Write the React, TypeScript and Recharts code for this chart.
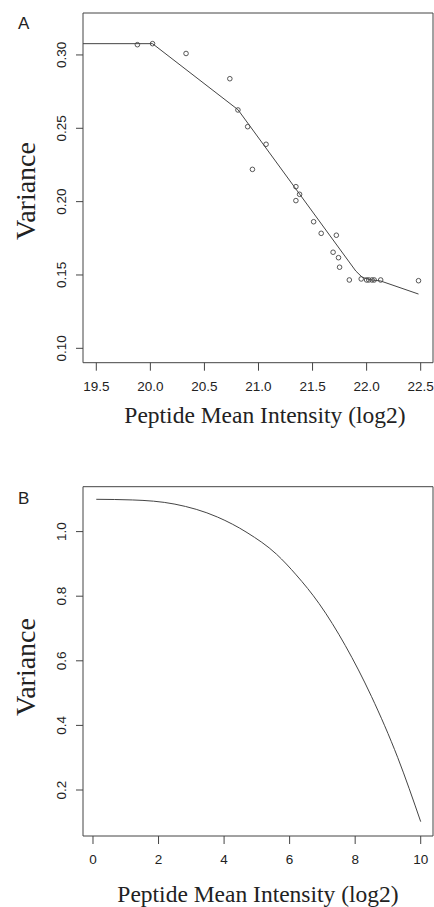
import React from "react";
import { ComposedChart, Line, Scatter, XAxis, YAxis, ReferenceArea } from "recharts";

// Panel A data
const aPointX = [19.88, 20.02, 20.33, 20.735, 20.81, 20.9, 21.07, 20.944, 21.346, 21.38, 21.346, 21.51, 21.58, 21.72, 21.69, 21.74, 21.75, 21.84, 21.95, 22.0, 22.02, 22.05, 22.07, 22.13, 22.48];
const aPointY = [0.307, 0.3077, 0.301, 0.2838, 0.2625, 0.2511, 0.2391, 0.222, 0.2102, 0.205, 0.2007, 0.1863, 0.1784, 0.1771, 0.1655, 0.1618, 0.1553, 0.1466, 0.1473, 0.1466, 0.1466, 0.1466, 0.1466, 0.1466, 0.1461];
const aLineX = [19.377, 20.02, 20.81, 21.9, 21.96, 22.03, 22.13, 22.48];
const aLineY = [0.3077, 0.3077, 0.2627, 0.1527, 0.1484, 0.1468, 0.1459, 0.137];
const aXTicks = [19.5, 20.0, 20.5, 21.0, 21.5, 22.0, 22.5];
const aYTicks = [0.1, 0.15, 0.2, 0.25, 0.3];

// Panel B data
const bLineX = [0.1, 1.2, 2.5, 3.8, 4.7, 5.6, 6.2, 6.9, 7.7, 8.5, 9.3, 10.0];
const bLineY = [1.1, 1.098, 1.085, 1.045, 0.997, 0.93, 0.866, 0.777, 0.647, 0.489, 0.3, 0.102];
const bXTicks = [0, 2, 4, 6, 8, 10];
const bYTicks = [0.2, 0.4, 0.6, 0.8, 1.0];

const aPoints = aPointX.map((x, i) => ({ x, y: aPointY[i] }));
const aLine = aLineX.map((x, i) => ({ x, y: aLineY[i] }));
const bLine = bLineX.map((x, i) => ({ x, y: bLineY[i] }));

const STROKE = "#444";
const TEXT = "#222";
const SANS = "'Liberation Sans', Arial, sans-serif";
const SERIF = "'Liberation Serif', 'Times New Roman', serif";

const XTick = (decimals: number) => (props: any) => {
  const { x, y, payload } = props;
  return (
    <text x={x} y={y + 18} textAnchor="middle" fontFamily={SANS} fontSize={13.5} fill={TEXT}>
      {Number(payload.value).toFixed(decimals)}
    </text>
  );
};

const YTick = (decimals: number) => (props: any) => {
  const { x, y, payload } = props;
  const cx = x - 8;
  return (
    <text x={cx} y={y} transform={`rotate(-90 ${cx} ${y})`} textAnchor="middle" fontFamily={SANS} fontSize={13.5} fill={TEXT}>
      {Number(payload.value).toFixed(decimals)}
    </text>
  );
};

const OpenCircle = (props: any) => (
  <circle cx={props.cx} cy={props.cy} r={2.3} fill="none" stroke={STROKE} strokeWidth={0.9} />
);

export default function App() {
  const aX: [number, number] = [19.377, 22.614];
  const aY: [number, number] = [0.0902, 0.3286];
  const bX: [number, number] = [-0.305, 10.375];
  const bY: [number, number] = [0.0576, 1.139];
  return (
    <div style={{ position: "absolute", left: 0, top: 0, width: 434, height: 907, background: "#fff", overflow: "hidden" }}>
      <div style={{ position: "absolute", left: 18, top: 14, fontFamily: SANS, fontSize: 17, color: TEXT }}>A</div>
      <div style={{ position: "absolute", left: 18, top: 489, fontFamily: SANS, fontSize: 17, color: TEXT }}>B</div>
      <div style={{ position: "absolute", left: 0, top: 0 }}>
        <ComposedChart width={434} height={450} margin={{ top: 13, right: 1, bottom: 0, left: 0 }}>
          <XAxis dataKey="x" type="number" domain={aX} ticks={aXTicks} allowDataOverflow axisLine={false}
            tickLine={{ stroke: STROKE }} tickSize={8} tick={XTick(1)} height={87.3} interval={0} />
          <YAxis dataKey="y" type="number" domain={aY} ticks={aYTicks} allowDataOverflow axisLine={false}
            tickLine={{ stroke: STROKE }} tickSize={7} tick={YTick(2)} width={83} interval={0} />
          <ReferenceArea x1={aX[0]} x2={aX[1]} y1={aY[0]} y2={aY[1]} fill="none" stroke={STROKE} strokeWidth={1} />
          <Line data={aLine} dataKey="y" type="linear" stroke={STROKE} strokeWidth={1} dot={false} isAnimationActive={false} />
          <Scatter data={aPoints} dataKey="y" shape={OpenCircle} isAnimationActive={false} />
          <text x={265} y={423} textAnchor="middle" fontFamily={SERIF} fontSize={23.5} fill={TEXT}>Peptide Mean Intensity (log2)</text>
          <text x={35} y={191} transform="rotate(-90 35 191)" textAnchor="middle" fontFamily={SERIF} fontSize={28} fill={TEXT}>Variance</text>
        </ComposedChart>
      </div>
      <div style={{ position: "absolute", left: 0, top: 450 }}>
        <ComposedChart width={434} height={457} margin={{ top: 36.7, right: 1, bottom: 0, left: 0 }}>
          <XAxis dataKey="x" type="number" domain={bX} ticks={bXTicks} allowDataOverflow axisLine={false}
            tickLine={{ stroke: STROKE }} tickSize={8} tick={XTick(0)} height={71} interval={0} />
          <YAxis dataKey="y" type="number" domain={bY} ticks={bYTicks} allowDataOverflow axisLine={false}
            tickLine={{ stroke: STROKE }} tickSize={7} tick={YTick(1)} width={83} interval={0} />
          <ReferenceArea x1={bX[0]} x2={bX[1]} y1={bY[0]} y2={bY[1]} fill="none" stroke={STROKE} strokeWidth={1} />
          <Line data={bLine} dataKey="y" type="monotone" stroke={STROKE} strokeWidth={1} dot={false} isAnimationActive={false} />
          <text x={258} y={452} textAnchor="middle" fontFamily={SERIF} fontSize={23.5} fill={TEXT}>Peptide Mean Intensity (log2)</text>
          <text x={35} y={217} transform="rotate(-90 35 217)" textAnchor="middle" fontFamily={SERIF} fontSize={28} fill={TEXT}>Variance</text>
        </ComposedChart>
      </div>
    </div>
  );
}
